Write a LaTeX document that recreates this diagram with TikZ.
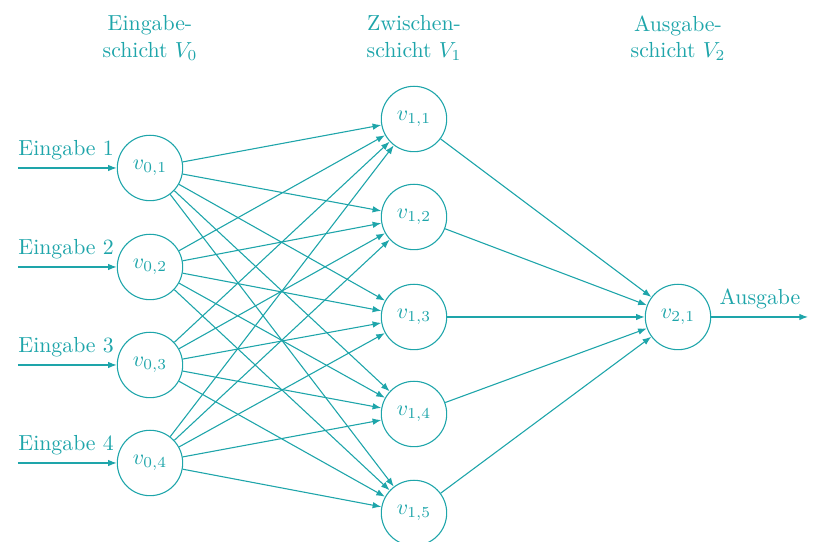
\documentclass[tikz,border=0pt]{standalone}
\usetikzlibrary{arrows.meta}
\definecolor{teal1}{RGB}{30,165,170}
\begin{document}
\begin{tikzpicture}[x=0.4587pt,y=-0.4587pt,
  neuron/.style={circle,draw=teal1,line width=0.5pt,minimum size=30pt,inner sep=0pt,text=teal1},
  conn/.style={draw=teal1,line width=0.5pt,-{Latex[length=4pt,width=3pt]}},
  lbl/.style={text=teal1,inner sep=0pt},
  hdr/.style={text=teal1,align=center,inner sep=0pt}]
\useasboundingbox (0,0) rectangle (813,542);
% headers
\node[hdr] (h0) at (150,38) {Eingabe-\\schicht $V_0$};
\node[hdr] (h1) at (414,38) {Zwischen-\\schicht $V_1$};
\node[hdr] (h2) at (678,38) {Ausgabe-\\schicht $V_2$};
% input layer
\foreach \i/\y in {1/168,2/267,3/365,4/463}{
  \node[neuron] (a\i) at (150,\y) {$v_{0,\i}$};
  \coordinate (in\i) at (18,\y);
  \draw[conn] (in\i) -- (a\i);
  \node[lbl,anchor=west] (l\i) at (18,\y-18) {Eingabe \i};
}
% hidden layer
\foreach \j/\y in {1/119,2/217,3/317,4/414,5/513}{
  \node[neuron] (b\j) at (414,\y) {$v_{1,\j}$};
}
% output
\node[neuron] (c1) at (678,317) {$v_{2,1}$};
\coordinate (out) at (808,317);
\draw[conn] (c1) -- (out);
\node[lbl] (lo) at (760,299) {Ausgabe};
% connections
\foreach \i in {1,...,4}{
  \foreach \j in {1,...,5}{
    \draw[conn] (a\i) -- (b\j);
  }
}
\foreach \j in {1,...,5}{
  \draw[conn] (b\j) -- (c1);
}
\end{tikzpicture}
\end{document}
